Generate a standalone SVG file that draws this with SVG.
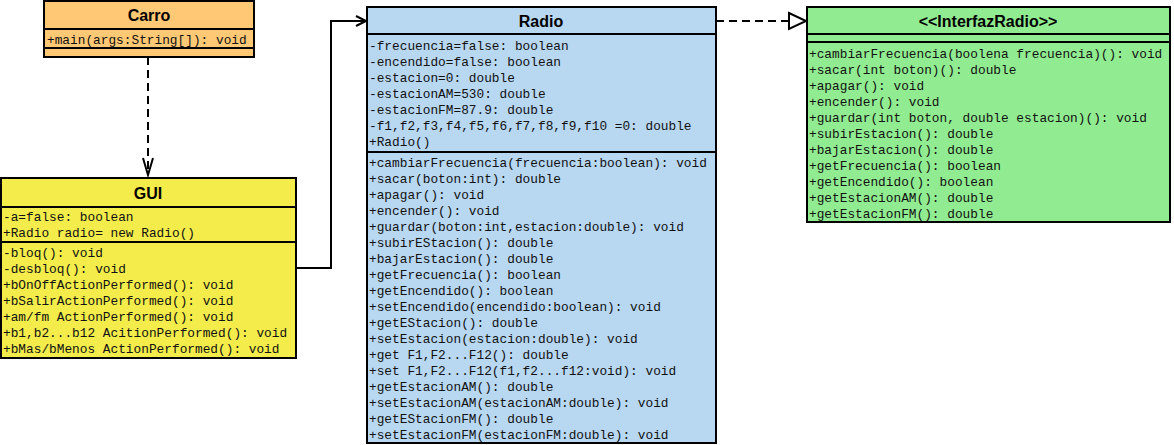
<svg xmlns="http://www.w3.org/2000/svg" width="1174" height="445" viewBox="0 0 1174 445">
<style>
.box{stroke:#000;stroke-width:2}
.div{stroke:#000;stroke-width:2}
.t{font-family:"Liberation Sans",Arial,sans-serif;font-weight:bold;font-size:16px;text-anchor:middle;fill:#000}
.m{font-family:"Liberation Mono","Courier New",monospace;font-size:12.8px;fill:#111}
.c{fill:none;stroke:#000;stroke-width:2}
.d{stroke-dasharray:8 5}
</style>
<rect width="1174" height="445" fill="#fff"/>
<g id="connectors">
<path class="c d" d="M148,57 V175"/>
<path class="c" d="M143,158 L148,175 L153,158"/>
<path class="c" d="M296,268 H331 V21 H366"/>
<path class="c" d="M356,16 L366,21 L356,26"/>
<path class="c d" d="M716,21 H789"/>
<path d="M789,13 L806,21 L789,29 Z" fill="#fff" stroke="#000" stroke-width="2"/>
</g>
<g id="Carro">
<rect class="box" x="44" y="1" width="210" height="56" fill="#FFC874"/>
<line class="div" x1="44" y1="29" x2="254" y2="29"/>
<line class="div" x1="44" y1="48" x2="254" y2="48"/>
<text class="t" x="149" y="21">Carro</text>
<text class="m" x="47" y="44">+main(args:String[]): void</text>
</g>
<g id="GUI">
<rect class="box" x="1" y="178" width="295" height="180" fill="#F3EC4B"/>
<line class="div" x1="1" y1="207" x2="296" y2="207"/>
<line class="div" x1="1" y1="242" x2="296" y2="242"/>
<text class="t" x="148" y="199">GUI</text>
<text class="m" x="3" y="221">-a=false: boolean</text>
<text class="m" x="3" y="237">+Radio radio= new Radio()</text>
<text class="m" x="3" y="257">-bloq(): void</text>
<text class="m" x="3" y="273">-desbloq(): void</text>
<text class="m" x="3" y="289">+bOnOffActionPerformed(): void</text>
<text class="m" x="3" y="305">+bSalirActionPerformed(): void</text>
<text class="m" x="3" y="321">+am/fm ActionPerformed(): void</text>
<text class="m" x="3" y="337">+b1,b2...b12 AcitionPerformed(): void</text>
<text class="m" x="3" y="353">+bMas/bMenos ActionPerformed(): void</text>
</g>
<g id="Radio">
<rect class="box" x="367" y="7" width="349" height="436" fill="#B8D7F1"/>
<line class="div" x1="367" y1="34" x2="716" y2="34"/>
<line class="div" x1="367" y1="152" x2="716" y2="152"/>
<text class="t" x="541" y="27">Radio</text>
<text class="m" x="369" y="50">-frecuencia=false: boolean</text>
<text class="m" x="369" y="66">-encendido=false: boolean</text>
<text class="m" x="369" y="82">-estacion=0: double</text>
<text class="m" x="369" y="98">-estacionAM=530: double</text>
<text class="m" x="369" y="114">-estacionFM=87.9: double</text>
<text class="m" x="369" y="130">-f1,f2,f3,f4,f5,f6,f7,f8,f9,f10 =0: double</text>
<text class="m" x="369" y="146">+Radio()</text>
<text class="m" x="369" y="167">+cambiarFrecuencia(frecuencia:boolean): void</text>
<text class="m" x="369" y="183">+sacar(boton:int): double</text>
<text class="m" x="369" y="199">+apagar(): void</text>
<text class="m" x="369" y="215">+encender(): void</text>
<text class="m" x="369" y="231">+guardar(boton:int,estacion:double): void</text>
<text class="m" x="369" y="247">+subirEStacion(): double</text>
<text class="m" x="369" y="263">+bajarEstacion(): double</text>
<text class="m" x="369" y="279">+getFrecuencia(): boolean</text>
<text class="m" x="369" y="295">+getEncendido(): boolean</text>
<text class="m" x="369" y="311">+setEncendido(encendido:boolean): void</text>
<text class="m" x="369" y="327">+getEStacion(): double</text>
<text class="m" x="369" y="343">+setEstacion(estacion:double): void</text>
<text class="m" x="369" y="359">+get F1,F2...F12(): double</text>
<text class="m" x="369" y="375">+set F1,F2...F12(f1,f2...f12:void): void</text>
<text class="m" x="369" y="391">+getEstacionAM(): double</text>
<text class="m" x="369" y="407">+setEstacionAM(estacionAM:double): void</text>
<text class="m" x="369" y="423">+getEStacionFM(): double</text>
<text class="m" x="369" y="439">+setEstacionFM(estacionFM:double): void</text>
</g>
<g id="InterfazRadio">
<rect class="box" x="807" y="7" width="363" height="215" fill="#91EC91"/>
<line class="div" x1="807" y1="34" x2="1170" y2="34"/>
<line class="div" x1="807" y1="42" x2="1170" y2="42"/>
<text class="t" x="988" y="27">&lt;&lt;InterfazRadio&gt;&gt;</text>
<text class="m" x="809" y="58">+cambiarFrecuencia(boolena frecuencia)(): void</text>
<text class="m" x="809" y="74">+sacar(int boton)(): double</text>
<text class="m" x="809" y="90">+apagar(): void</text>
<text class="m" x="809" y="106">+encender(): void</text>
<text class="m" x="809" y="122">+guardar(int boton, double estacion)(): void</text>
<text class="m" x="809" y="138">+subirEstacion(): double</text>
<text class="m" x="809" y="154">+bajarEstacion(): double</text>
<text class="m" x="809" y="170">+getFrecuencia(): boolean</text>
<text class="m" x="809" y="186">+getEncendido(): boolean</text>
<text class="m" x="809" y="202">+getEstacionAM(): double</text>
<text class="m" x="809" y="218">+getEstacionFM(): double</text>
</g>
</svg>
